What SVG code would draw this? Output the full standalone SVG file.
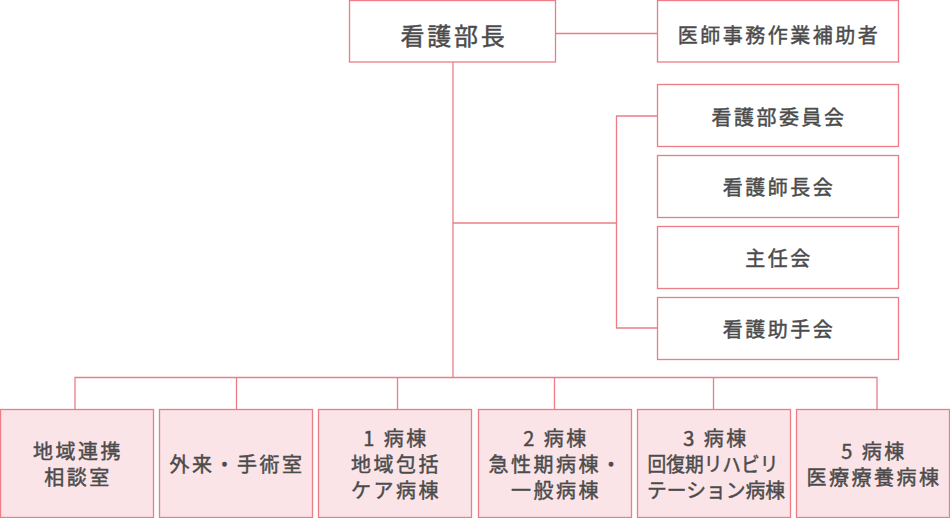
<svg xmlns="http://www.w3.org/2000/svg" width="950" height="518" viewBox="0 0 950 518">
<style>
.box{fill:#ffffff;stroke:#ec7c86;stroke-width:1.3}
.pbox{fill:#fbe4e7;stroke:#ec7c86;stroke-width:1.3}
.ln{fill:none;stroke:#ec7c86;stroke-width:1.3}
text{font-family:"Noto Sans CJK JP","Noto Sans",sans-serif;font-weight:400;fill:#4b4b4b;stroke:#4b4b4b;stroke-width:0.45;text-anchor:middle;dominant-baseline:central;letter-spacing:2.5px}
.t{font-size:24px;letter-spacing:2.8px}
.m{font-size:20px}
.s{font-size:20px}
</style>
<rect width="950" height="518" fill="#ffffff"/>
<g id="connectors">
<path class="ln" d="M555.5 33.5H657.5"/>
<path class="ln" d="M453 62V377.5"/>
<path class="ln" d="M453 223H616.5"/>
<path class="ln" d="M657.5 116H616.5V328H657.5"/>
<path class="ln" d="M75 409V377.5H877V409"/>
<path class="ln" d="M236.5 377.5V409M397.5 377.5V409M554.5 377.5V409M713.5 377.5V409"/>
</g>
<g id="n-head"><rect class="box" x="349.5" y="0.5" width="206" height="61.5"/><text class="t" x="454" y="34">看護部長</text></g>
<g id="n-ishi"><rect class="box" x="657.5" y="0.5" width="241" height="61.5"/><text class="m" x="779" y="34">医師事務作業補助者</text></g>
<g id="n-iinkai"><rect class="box" x="657.5" y="84.5" width="241" height="62"/><text class="m" x="779" y="116">看護部委員会</text></g>
<g id="n-shicho"><rect class="box" x="657.5" y="155.5" width="241" height="62"/><text class="m" x="779" y="186">看護師長会</text></g>
<g id="n-shunin"><rect class="box" x="657.5" y="226.5" width="241" height="62"/><text class="m" x="779" y="257">主任会</text></g>
<g id="n-joshu"><rect class="box" x="657.5" y="297.5" width="241" height="62"/><text class="m" x="779" y="328">看護助手会</text></g>
<g id="n-chiiki"><rect class="pbox" x="0.5" y="409.5" width="153" height="108"/><text class="s" x="78" y="450">地域連携</text><text class="s" x="78" y="476">相談室</text></g>
<g id="n-gairai"><rect class="pbox" x="159.5" y="409.5" width="153" height="108"/><text class="s" x="237" y="463">外来・手術室</text></g>
<g id="n-b1"><rect class="pbox" x="318.5" y="409.5" width="153" height="108"/><text class="s" x="396" y="437">1 病棟</text><text class="s" x="396" y="463">地域包括</text><text class="s" x="396" y="489">ケア病棟</text></g>
<g id="n-b2"><rect class="pbox" x="478.5" y="409.5" width="153" height="108"/><text class="s" x="556" y="437">2 病棟</text><text class="s" x="556" y="463">急性期病棟・</text><text class="s" x="556" y="489">一般病棟</text></g>
<g id="n-b3"><rect class="pbox" x="637.5" y="409.5" width="153" height="108"/><text class="s" x="716" y="437">3 病棟</text><text class="s" x="713" y="463" textLength="131" lengthAdjust="spacingAndGlyphs" style="letter-spacing:0">回復期リハビリ</text><text class="s" x="716" y="489" textLength="138" lengthAdjust="spacingAndGlyphs" style="letter-spacing:0">テーション病棟</text></g>
<g id="n-b5"><rect class="pbox" x="796.5" y="409.5" width="153" height="108"/><text class="s" x="874" y="450">5 病棟</text><text class="s" x="874" y="476">医療療養病棟</text></g>
</svg>
